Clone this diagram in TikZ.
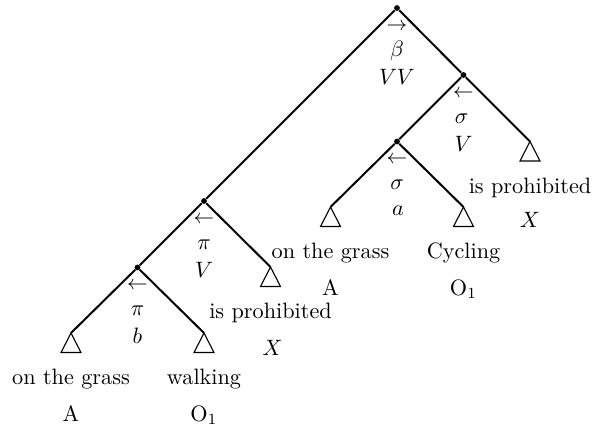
\documentclass[tikz,border=0pt]{standalone}
\usetikzlibrary{calc}
\begin{document}
\begin{tikzpicture}[x=0.45pt,y=-0.45pt,
  edge/.style={line width=0.9pt},
  tri/.style={line width=0.5pt},
  dot/.style={circle,fill,inner sep=0pt,minimum size=2.6pt},
  lab/.style={inner sep=0pt,font=\fontsize{10}{12}\selectfont},
  arr/.style={inner sep=0pt,font=\fontsize{9}{11}\selectfont}]
\useasboundingbox (0,0) rectangle (595,429);

% internal nodes
\node[dot] (R)  at (397,8) {};
\node[dot] (S1) at (463.5,75) {};
\node[dot] (S2) at (397,141.5) {};
\node[dot] (P1) at (204,201) {};
\node[dot] (P2) at (137.5,267.5) {};

% leaf apexes
\coordinate (L1) at (71,333);
\coordinate (L2) at (204,333);
\coordinate (L3) at (270.5,267);
\coordinate (L4) at (330.5,207);
\coordinate (L5) at (463.5,207);
\coordinate (L6) at (530,141.5);

% edges
\draw[edge] (R) -- (S1);
\draw[edge] (R) -- (P1);
\draw[edge] (S1) -- (S2);
\draw[edge] (S1) -- (L6);
\draw[edge] (S2) -- (L4);
\draw[edge] (S2) -- (L5);
\draw[edge] (P1) -- (P2);
\draw[edge] (P1) -- (L3);
\draw[edge] (P2) -- (L1);
\draw[edge] (P2) -- (L2);

% triangles
\foreach \l in {L1,L2,L3,L4,L5,L6}
  \draw[tri] (\l) -- ++(-10,19.5) -- ++(20,0) -- cycle;

% internal labels
\node[arr] (Ra) at ($(R)+(0,18.5)$) {$\rightarrow$};
\node[lab,anchor=base] (Rb) at ($(R)+(0,48)$) {$\beta$};
\node[lab,anchor=base] (Rc) at ($(R)+(0,76)$) {$VV$};

\node[arr] (S1a) at ($(S1)+(0,18.5)$) {$\leftarrow$};
\node[lab,anchor=base] (S1b) at ($(S1)+(-2,48)$) {$\sigma$};
\node[lab,anchor=base] (S1c) at ($(S1)+(0,76)$) {$V$};

\node[arr] (S2a) at ($(S2)+(0,18.5)$) {$\leftarrow$};
\node[lab,anchor=base] (S2b) at ($(S2)+(0,48)$) {$\sigma$};
\node[lab,anchor=base] (S2c) at ($(S2)+(1,74)$) {$a$};

\node[arr] (P1a) at ($(P1)+(0,18.5)$) {$\leftarrow$};
\node[lab,anchor=base] (P1b) at ($(P1)+(0,48)$) {$\pi$};
\node[lab,anchor=base] (P1c) at ($(P1)+(0,76)$) {$V$};

\node[arr] (P2a) at ($(P2)+(0,18.5)$) {$\leftarrow$};
\node[lab,anchor=base] (P2b) at ($(P2)+(0,48)$) {$\pi$};
\node[lab,anchor=base] (P2c) at ($(P2)+(0,76)$) {$b$};

% leaf labels
\node[lab,anchor=base] (T1)  at ($(L1)+(0,51.5)$) {on the grass};
\node[lab,anchor=base] (T1b) at ($(L1)+(0,88)$) {A};
\node[lab,anchor=base] (T2)  at ($(L2)+(0,51.5)$) {walking};
\node[lab,anchor=base] (T2b) at ($(L2)+(0,88)$) {O$_1$};
\node[lab,anchor=base] (T3)  at ($(L3)+(0,51.5)$) {is prohibited};
\node[lab,anchor=base] (T3b) at ($(L3)+(2,88)$) {$X$};
\node[lab,anchor=base] (T4)  at ($(L4)+(0,51.5)$) {on the grass};
\node[lab,anchor=base] (T4b) at ($(L4)+(0,88)$) {A};
\node[lab,anchor=base] (T5)  at ($(L5)+(0,51.5)$) {Cycling};
\node[lab,anchor=base] (T5b) at ($(L5)+(0,88)$) {O$_1$};
\node[lab,anchor=base] (T6)  at ($(L6)+(0,51.5)$) {is prohibited};
\node[lab,anchor=base] (T6b) at ($(L6)+(0,86)$) {$X$};
\end{tikzpicture}
\end{document}
